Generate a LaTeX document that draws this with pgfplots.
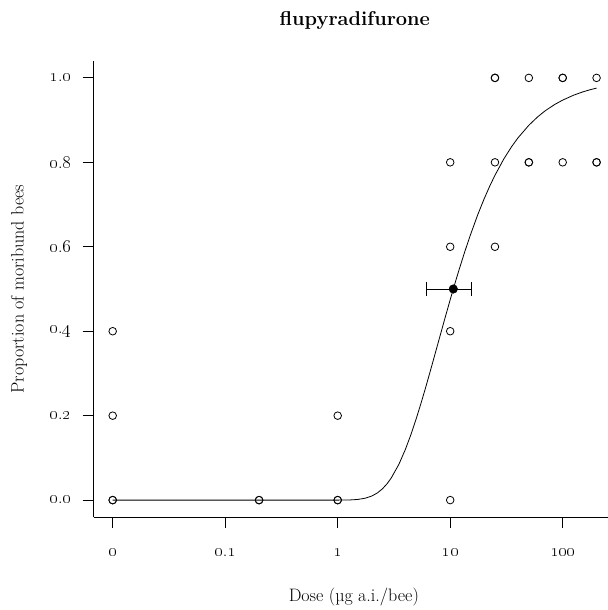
\RequirePackage{fix-cm}
\documentclass[border=0pt]{standalone}
\usepackage{pgfplots}
\pgfplotsset{compat=1.18}

\newcommand{\osn}[1]{\mbox{\oldstylenums{#1}}}
\newcommand{\basefont}{\fontsize{18bp}{21bp}\selectfont}

\begin{document}
\begin{tikzpicture}
\path[use as bounding box] (0,0) rectangle (608bp,610bp);
\begin{axis}[
  at={(93.7bp,93bp)}, anchor=south west,
  scale only axis, width=514.3bp, height=456bp,
  xmode=log, log basis x=10,
  xmin=0.006778, xmax=252.7,
  ymin=-0.04, ymax=1.04,
  axis x line=bottom, axis y line=left,
  axis line style={-, line width=0.9bp, black},
  every tick/.style={black, line width=0.9bp},
  tick align=outside, major tick length=11bp,
  xminorticks=false,
  xtick={0.01,0.1,1,10,100},
  xticklabels={\osn{0},\osn{0}.\osn{1},\osn{1},\osn{10},\osn{100}},
  ytick={0,0.2,0.4,0.6,0.8,1},
  yticklabels={\osn{0}.\osn{0},\osn{0}.\osn{2},\osn{0}.\osn{4},\osn{0}.\osn{6},\osn{0}.\osn{8},\osn{1}.\osn{0}},
  every tick label/.append style={font=\basefont},
  xticklabel style={yshift=-17bp},
  yticklabel style={xshift=-8bp},
  title={flupyradifurone},
  title style={font=\fontsize{20bp}{24bp}\selectfont\bfseries, anchor=base,
    at={(axis description cs:0.5078,1.0658)}},
  xlabel={Dose (µg a.i./bee)},
  xlabel style={font=\basefont, anchor=base,
    at={(axis description cs:0.5058,-0.1857)}},
  ylabel={Proportion of moribund bees},
  ylabel style={font=\basefont, anchor=center,
    at={(axis description cs:-0.1452,0.5)}},
  clip=false,
]
% fitted dose-response curve
\addplot[black, line width=0.8bp] coordinates {
  (0.01,0) (0.1,0) (1,0) (1.2,0.0002) (1.3,0.0005) (1.5,0.0015) (1.75,0.0044)
  (2,0.0094) (2.25,0.0169) (2.5,0.0268) (2.75,0.0389) (3,0.0529) (3.5,0.0849)
  (4,0.1203) (4.5,0.1569) (5,0.1936) (5.5,0.2293) (6,0.2634) (6.5,0.2960)
  (7,0.3266) (7.5,0.3555) (8,0.3825) (9,0.4316) (10,0.4747) (11,0.5125)
  (12,0.5459) (13.5,0.5891) (15,0.6254) (17.5,0.6746) (20,0.7131) (22.5,0.7441)
  (25,0.7694) (30,0.8082) (35,0.8364) (40,0.8578) (50,0.8878) (60,0.9079)
  (70,0.9222) (85,0.9371) (100,0.9474) (125,0.9590) (150,0.9666) (175,0.9719)
  (200,0.9758)
};
% observed proportions (dose 0 drawn at 0.01); repeated rows are replicates
\addplot[only marks, mark=o, mark size=3.8bp, black, line width=0.8bp] coordinates {
  (0.01,0) (0.01,0) (0.01,0.2) (0.01,0.4)
  (0.2,0) (0.2,0)
  (1,0) (1,0) (1,0.2)
  (10,0) (10,0.4) (10,0.6) (10,0.8)
  (25,0.6) (25,0.8) (25,1) (25,1)
  (50,0.8) (50,0.8) (50,1)
  (100,0.8) (100,1) (100,1)
  (200,0.8) (200,0.8) (200,1)
};
% ED50 with its confidence interval
\addplot[only marks, mark=*, mark size=4.3bp, black,
  error bars/.cd, x dir=both, x explicit,
  error mark=|, error bar style={line width=0.8bp, black},
  error mark options={mark size=7bp, line width=0.8bp, black}]
  coordinates {(10.66,0.5) += (4.64,0) -= (4.56,0)};
\end{axis}
\end{tikzpicture}
\end{document}
